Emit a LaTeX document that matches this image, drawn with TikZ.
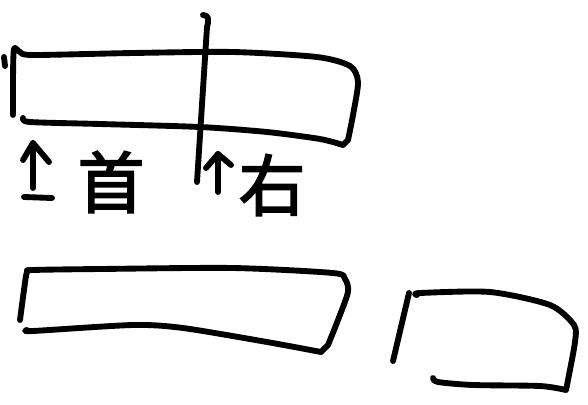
\documentclass[tikz,border=0pt]{standalone}
\usepackage{fontspec}
\newfontfamily\cjk{Noto Sans CJK SC}[FakeBold=2.5]
\begin{document}
\begin{tikzpicture}[x=0.75pt,y=-0.75pt,
  ink/.style={line width=4.4pt,line cap=round,line join=round,black},
  lbl/.style={font=\cjk\fontsize{50}{52}\selectfont,inner sep=0pt}]
\useasboundingbox (0,0) rectangle (588,404);
% top rectangle
\draw[ink] plot[smooth,tension=0.45] coordinates{(13,115) (13,80) (14,49) (20,52) (33,55) (133,53) (233,52) (317,57) (350,66) (358,82) (353,115) (348,140)}
  -- (343,145) plot[smooth,tension=0.45] coordinates{(343,145) (320,139) (267,132) (200,127) (100,124) (30,122) (23,118)};
\draw[ink] (4,57) -- (5,66);
% vertical divider
\coordinate (vtop) at (207,27);
\coordinate (vbot) at (197,182);
\draw[ink] (203,15) .. controls (209,15) and (209,20) .. (vtop) -- (vbot);
% labels
\node[lbl] (shou) at (111,182) {首};
\node[lbl] (you) at (272,185) {右};
% left arrow
\coordinate (la) at (33,188);
\coordinate (lt) at (33,143);
\draw[ink] (la) -- (lt);
\draw[ink] (23,160) -- (lt) -- (49,162);
\draw[ink] (24,197) -- (52,198);
% right arrow
\coordinate (ra) at (218,192);
\coordinate (rt) at (218,154);
\draw[ink] (ra) -- (rt);
\draw[ink] (206,168) -- (rt) -- (231,165);
% bottom-left rectangle
\draw[ink] plot[smooth,tension=0.45] coordinates{(20,320) (24,290) (27,272) (33,270) (100,269) (233,268) (333,273) (345,279) (348,292) (338,320) (328,345)}
  -- (321,352) plot[smooth,tension=0.45] coordinates{(321,352) (267,342) (183,328) (133,325) (33,331) (27,330)};
% bottom-right shape
\draw[ink] (409,293) -- (393,361);
\draw[ink] plot[smooth,tension=0.45] coordinates{(417,295) (420,293) (490,292) (550,305) (574,325) (575,342) (568,380) (566,390)}
  -- (566,390) plot[smooth,tension=0.45] coordinates{(566,390) (540,386) (473,385) (438,382) (433,378)};
\end{tikzpicture}
\end{document}
